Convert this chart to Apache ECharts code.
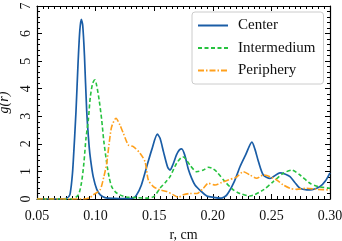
<!DOCTYPE html>
<html>
<head>
<meta charset="utf-8">
<script src="https://cdn.jsdelivr.net/npm/echarts@6/dist/echarts.min.js"></script>
<style>
html,body{margin:0;padding:0;background:#fff;}
#chart{width:342px;height:241px;}
</style>
</head>
<body>
<div id="chart"></div>
<script>
var seriesNames = ['Center', 'Intermedium', 'Periphery'];
var xTicks = [0.05, 0.10, 0.15, 0.20, 0.25, 0.30];
var yTicks = [0, 1, 2, 3, 4, 5, 6, 7];

var centerData = [[0.05,0],[0.07,0],[0.075,0.02],[0.078,0.15],[0.080,0.8],[0.081,1.4],[0.0833,3.2],[0.085,4.9],[0.0865,6.1],[0.0878,6.52],[0.089,6.3],[0.0905,5.2],[0.0924,3.2],[0.0945,1.9],[0.0958,1.4],[0.098,0.8],[0.101,0.35],[0.104,0.15],[0.108,0.05],[0.115,0.02],[0.125,0.01],[0.132,0.03],[0.135,0.15],[0.139,0.5],[0.1436,1.17],[0.148,1.8],[0.1527,2.35],[0.155,2.2],[0.158,1.7],[0.1615,1.15],[0.1635,1.05],[0.166,1.25],[0.169,1.6],[0.1715,1.78],[0.1735,1.82],[0.176,1.6],[0.179,1.1],[0.182,0.75],[0.1848,0.51],[0.19,0.28],[0.1948,0.11],[0.2005,0.06],[0.207,0.03],[0.212,0.15],[0.218,0.6],[0.2232,1.17],[0.228,1.6],[0.2334,2.06],[0.236,1.8],[0.239,1.35],[0.2431,0.87],[0.2488,0.75],[0.2573,0.95],[0.262,0.9],[0.2659,0.81],[0.270,0.6],[0.2744,0.39],[0.2829,0.33],[0.2915,0.45],[0.296,0.65],[0.3,0.95]];
var intermediumData = [[0.05,0],[0.08,0],[0.0853,0.15],[0.088,0.6],[0.09,1.3],[0.0918,2.2],[0.0938,2.87],[0.0955,3.7],[0.0975,4.2],[0.0995,4.32],[0.101,4.1],[0.103,3.6],[0.1052,2.87],[0.107,2.1],[0.1095,1.3],[0.1115,0.8],[0.1137,0.45],[0.117,0.25],[0.1208,0.15],[0.126,0.07],[0.135,0.05],[0.145,0.03],[0.15,0.1],[0.155,0.39],[0.1595,0.6],[0.1635,0.81],[0.1692,1.3],[0.1743,1.53],[0.177,1.45],[0.1805,1.23],[0.1863,0.99],[0.192,1.05],[0.1962,1.15],[0.2,1.1],[0.2033,0.99],[0.2104,0.63],[0.2175,0.33],[0.2232,0.2],[0.2317,0.11],[0.2431,0.33],[0.2516,0.63],[0.2601,0.93],[0.2673,1.05],[0.2744,0.87],[0.2829,0.57],[0.29,0.45],[0.3,0.39]];
var peripheryData = [[0.05,0],[0.09,0],[0.095,0.05],[0.098,0.15],[0.1038,0.33],[0.107,0.8],[0.1095,1.3],[0.1115,2.0],[0.1137,2.62],[0.1174,2.93],[0.1208,2.68],[0.1237,2.38],[0.128,1.96],[0.1322,1.9],[0.1379,1.66],[0.1422,1.35],[0.145,0.69],[0.1493,0.45],[0.155,0.33],[0.1607,0.27],[0.1663,0.15],[0.1706,0.06],[0.1748,0.15],[0.1805,0.2],[0.1863,0.2],[0.192,0.39],[0.1962,0.57],[0.2019,0.51],[0.2076,0.6],[0.2132,0.69],[0.2204,0.8],[0.226,0.99],[0.2317,0.87],[0.2374,0.75],[0.2431,0.87],[0.2488,0.81],[0.2545,0.69],[0.2601,0.51],[0.2659,0.39],[0.2716,0.35],[0.2801,0.39],[0.2886,0.35],[0.3,0.33]];

var FONT = 'Liberation Serif';
var BLUE = '#1a5da6', GREEN = '#27c23f', ORANGE = '#ffa01c';
var chart = echarts.init(document.getElementById('chart'), null, {renderer: 'canvas'});

function frameAxis(pos) {
  return {
    type: 'value', position: pos,
    axisLine: {show: true, onZero: false, lineStyle: {color: '#000', width: 1.2}},
    axisTick: {show: true, inside: true, length: 5, lineStyle: {color: '#000'}},
    minorTick: {show: true, length: 3, lineStyle: {color: '#000'}},
    axisLabel: {show: false},
    splitLine: {show: false}
  };
}

var xBottom = frameAxis('bottom');
xBottom.min = xTicks[0]; xBottom.max = xTicks[xTicks.length - 1]; xBottom.interval = 0.05;
xBottom.minorTick.splitNumber = 10;
xBottom.name = 'r, cm'; xBottom.nameLocation = 'middle'; xBottom.nameGap = 25;
xBottom.nameTextStyle = {fontFamily: FONT, fontSize: 14, color: '#111'};
xBottom.axisLabel = {show: true, margin: 10, fontFamily: FONT, fontSize: 14, color: '#111',
  formatter: function (v) { return v.toFixed(2); }};

var xTop = frameAxis('top');
xTop.min = xTicks[0]; xTop.max = xTicks[xTicks.length - 1]; xTop.interval = 0.05;
xTop.minorTick.splitNumber = 10;

var yLeft = frameAxis('left');
yLeft.min = yTicks[0]; yLeft.max = yTicks[yTicks.length - 1]; yLeft.interval = 1;
yLeft.minorTick.splitNumber = 5;
yLeft.name = 'g(r)'; yLeft.nameLocation = 'middle'; yLeft.nameGap = 21; yLeft.nameRotate = 90;
yLeft.nameTextStyle = {fontFamily: FONT, fontSize: 14, fontStyle: 'italic', color: '#111'};
yLeft.axisLabel = {show: true, margin: 4, rotate: 90, fontFamily: FONT, fontSize: 14, color: '#111'};

var yRight = frameAxis('right');
yRight.min = yTicks[0]; yRight.max = yTicks[yTicks.length - 1]; yRight.interval = 1;
yRight.minorTick.splitNumber = 5;

function lineSeries(name, data, color, type, width) {
  return {
    name: name, type: 'line', data: data, showSymbol: false, symbol: 'none',
    smooth: 0.25, xAxisIndex: 0, yAxisIndex: 0,
    lineStyle: {color: color, width: width, type: type},
    itemStyle: {color: color, opacity: 0}
  };
}

var option = {
  animation: false,
  backgroundColor: '#fff',
  grid: {left: 37, right: 12, top: 6, bottom: 42, containLabel: false, outerBoundsMode: 'none'},
  legend: {
    orient: 'vertical',
    left: 192, top: 12,
    data: seriesNames,
    itemWidth: 30, itemHeight: 12, itemGap: 7.5,
    padding: [6, 8, 6, 5],
    backgroundColor: '#fff',
    borderColor: '#cccccc', borderWidth: 1, borderRadius: 3,
    itemStyle: {opacity: 0},
    textStyle: {fontFamily: FONT, fontSize: 15, color: '#111', padding: [0, 0, 0, 5]}
  },
  xAxis: [xBottom, xTop],
  yAxis: [yLeft, yRight],
  series: [
    lineSeries(seriesNames[0], centerData, BLUE, 'solid', 1.7),
    lineSeries(seriesNames[1], intermediumData, GREEN, [4, 2.5], 1.6),
    lineSeries(seriesNames[2], peripheryData, ORANGE, [6, 2, 1.5, 2], 1.6)
  ]
};
chart.setOption(option);
</script>
</body>
</html>
